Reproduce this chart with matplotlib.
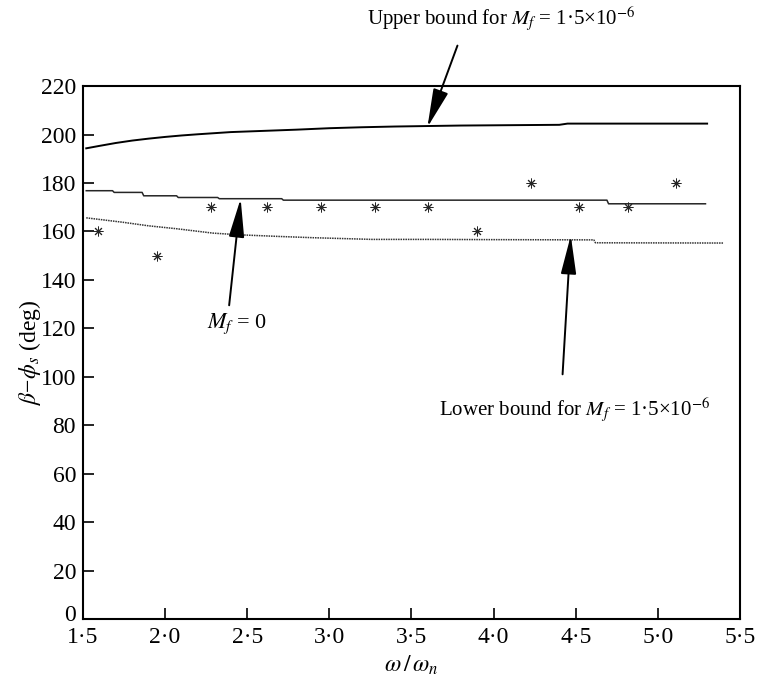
import matplotlib.pyplot as plt
import matplotlib.transforms as mtransforms
from matplotlib.ticker import FixedLocator, FuncFormatter

plt.rcParams['font.family'] = 'Liberation Serif'
plt.rcParams['mathtext.fontset'] = 'stix'

# upper bound, M_f = 1.5e-6
upper_x = [1.52, 1.6, 1.7, 1.8, 1.9, 2.0, 2.1, 2.2, 2.4, 2.6, 2.8, 3.0, 3.2, 3.4, 3.6, 3.8, 4.0, 4.4, 4.45, 5.3]
upper_y = [194.3, 195.3, 196.5, 197.5, 198.3, 199.0, 199.6, 200.1, 201.0, 201.5, 202.0, 202.6, 203.0, 203.3, 203.5, 203.7, 203.8, 204.0, 204.5, 204.5]

# M_f = 0
mid_x = [1.52, 1.68, 1.69, 1.86, 1.87, 2.07, 2.08, 2.32, 2.33, 2.71, 2.72, 4.69, 4.70, 5.29]
mid_y = [176.8, 176.8, 176.1, 176.1, 174.7, 174.7, 174.0, 174.0, 173.5, 173.5, 172.9, 172.9, 171.4, 171.4]

# lower bound, M_f = 1.5e-6
lower_x = [1.52, 1.74, 1.9, 2.07, 2.29, 2.45, 2.7, 2.9, 3.26, 3.6, 4.0, 4.61, 4.62, 5.40]
lower_y = [165.6, 163.8, 162.3, 161.1, 159.3, 158.6, 157.9, 157.4, 156.7, 156.7, 156.6, 156.5, 155.3, 155.2]

# measured points
meas_x = [1.59, 1.95, 2.28, 2.62, 2.95, 3.28, 3.60, 3.90, 4.23, 4.52, 4.82, 5.11]
meas_y = [160, 150, 170, 170, 170, 170, 170, 160, 180, 170, 170, 180]

xticks = [1.5, 2.0, 2.5, 3.0, 3.5, 4.0, 4.5, 5.0, 5.5]
yticks = list(range(0, 221, 20))

fig = plt.figure(figsize=(7.57, 6.83), dpi=100)
ax = fig.add_axes([0.1096, 0.0937, 0.8679, 0.7803])

ax.plot(upper_x, upper_y, color='black', lw=1.4)
ax.plot(mid_x, mid_y, color='0.15', lw=1.1)
ax.plot(lower_x, lower_y, color='0.2', lw=1.1, linestyle=(0, (1, 0.6)))
ax.plot(meas_x, meas_y, linestyle='none', marker=(8, 2, 0), markersize=7,
        markeredgewidth=0.7, color='0.15')

ax.set_xlim(1.5, 5.5)
ax.set_ylim(0, 220)
ax.xaxis.set_major_locator(FixedLocator(xticks))
ax.yaxis.set_major_locator(FixedLocator(yticks))
ax.xaxis.set_major_formatter(FuncFormatter(lambda v, p: f'{v:.1f}'.replace('.', '·')))
ax.yaxis.set_major_formatter(FuncFormatter(lambda v, p: f'{v:.0f}'))
ax.tick_params(direction='in', length=8, width=1.2, labelsize=17)
ax.tick_params(axis='x', pad=6)
ax.tick_params(axis='y', pad=5)
for s in ax.spines.values():
    s.set_linewidth(1.5)

# nudge the "0" label up so it clears the "1·5" label
fig.canvas.draw()
ylab0 = ax.get_yticklabels()[0]
ylab0.set_transform(ylab0.get_transform() +
                    mtransforms.ScaledTranslation(0, 4 / 72, fig.dpi_scale_trans))

ax.set_xlabel(r'$\omega\,/\,\omega_n$', fontsize=17, labelpad=4)
ax.set_ylabel(r'$\beta$−$\phi_s$ (deg)', fontsize=17, labelpad=-2)

arrow = dict(arrowstyle='-|>,head_length=1.4,head_width=0.28', color='black',
             lw=1.4, mutation_scale=17, shrinkA=0, shrinkB=0)
ax.annotate('', xy=(3.597, 203), xytext=(3.78, 236.7), arrowprops=arrow,
            annotation_clip=False)
ax.annotate('', xy=(2.46, 173.5), xytext=(2.39, 129.5), arrowprops=arrow)
ax.annotate('', xy=(4.47, 158.3), xytext=(4.42, 101), arrowprops=arrow)

ax.text(3.23, 247.8, r'Upper bound for $M_f$ = 1·5×10$^{-6}$', fontsize=15,
        va='center', ha='left', clip_on=False)
ax.text(2.44, 122, r'$M_f$ = 0', fontsize=16, va='center', ha='center')
ax.text(3.67, 86.2, r'Lower bound for $M_f$ = 1·5×10$^{-6}$', fontsize=15,
        va='center', ha='left')

fig.savefig('out.png', dpi=100)
